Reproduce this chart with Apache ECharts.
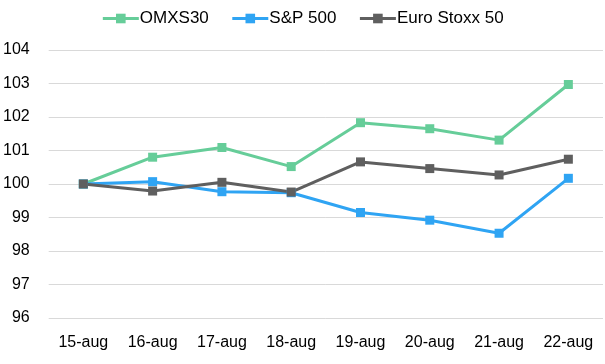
<!DOCTYPE html>
<html><head><meta charset="utf-8">
<script src="https://cdn.jsdelivr.net/npm/echarts@6/dist/echarts.min.js"></script>
<style>html,body{margin:0;padding:0;background:#fff}#c{width:605px;height:364px}</style>
</head><body><div id="c"></div>
<script>
const categories = ['15-aug','16-aug','17-aug','18-aug','19-aug','20-aug','21-aug','22-aug'];
const omxs30 = [100, 100.8, 101.09, 100.52, 101.83, 101.65, 101.31, 102.97];
const sp500 = [100, 100.07, 99.77, 99.74, 99.15, 98.92, 98.53, 100.17];
const euroStoxx = [100, 99.79, 100.05, 99.76, 100.66, 100.46, 100.27, 100.74];
const yTicks = {min: 96, max: 104, interval: 1};

const font = 'Liberation Sans, Arial, sans-serif';
const mk = (name, data, color) => ({
  name, type: 'line', data, symbol: 'rect', symbolSize: 9,
  lineStyle: {width: 3, color}, itemStyle: {color},
  emphasis: {disabled: true}
});
const chart = echarts.init(document.getElementById('c'));
chart.setOption({
  animation: false,
  textStyle: {fontFamily: font},
  legend: {
    top: 5, left: 'center', itemWidth: 36, itemHeight: 12, itemGap: 22,
    textStyle: {fontSize: 17, color: '#000', fontFamily: font, padding: [0, 0, 0, -4]},
    lineStyle: {width: 3},
    data: ['OMXS30', 'S&P 500', 'Euro Stoxx 50']
  },
  grid: {left: 47, right: 2, top: 50, bottom: 46},
  xAxis: {
    type: 'category', data: categories, boundaryGap: true,
    axisLine: {show: false}, axisTick: {show: false},
    axisLabel: {fontSize: 16, color: '#000', margin: 17, fontFamily: font}
  },
  yAxis: {
    type: 'value', min: yTicks.min, max: yTicks.max, interval: yTicks.interval,
    axisLine: {show: false}, axisTick: {show: false},
    axisLabel: {fontSize: 16, color: '#000', margin: 19, fontFamily: font},
    splitLine: {lineStyle: {color: '#d9d9d9', width: 1}}
  },
  series: [
    mk('OMXS30', omxs30, '#66CD99'),
    mk('S&P 500', sp500, '#2FA4F3'),
    mk('Euro Stoxx 50', euroStoxx, '#5F5F5F')
  ]
});
</script></body></html>
